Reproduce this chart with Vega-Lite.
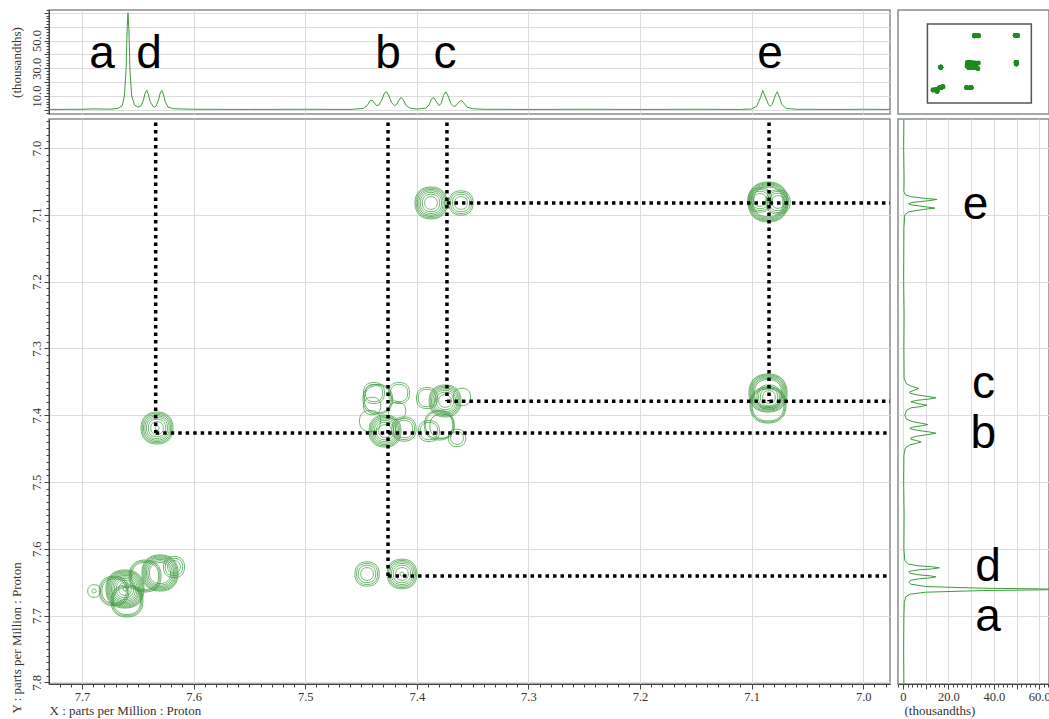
{
"$schema": "https://vega.github.io/schema/vega-lite/v6.json",
"padding": {"left": 9, "top": 8, "right": 0, "bottom": 2},
"background": "white",
"columns": 2,
"spacing": {"row": 3, "column": 3},
"align": "each",
"config": {
  "view": {"stroke": "#8a8a8a", "strokeWidth": 1.5},
  "axis": {"labelFont": "Liberation Serif", "titleFont": "Liberation Serif", "labelFontSize": 12.5, "titleFontSize": 13, "titleFontWeight": "normal", "labelColor": "#333", "titleColor": "#333", "gridColor": "#dcdcdc", "gridWidth": 1, "domainColor": "#444", "tickColor": "#444", "labelOverlap": false, "labelFlush": false}
},
"datasets": {
  "f2": [
    {"ppm":7.7296,"i":0.3},{"ppm":7.70,"i":0.4},{"ppm":7.69,"i":0.7},{"ppm":7.675,"i":0.5},{"ppm":7.668,"i":1.0},{"ppm":7.664,"i":3},{"ppm":7.662,"i":10},{"ppm":7.6605,"i":30},{"ppm":7.6595,"i":60},{"ppm":7.6588,"i":70},{"ppm":7.658,"i":58},{"ppm":7.657,"i":28},{"ppm":7.6555,"i":10},{"ppm":7.653,"i":3.5},{"ppm":7.65,"i":2},{"ppm":7.647,"i":3},{"ppm":7.645,"i":7},{"ppm":7.6435,"i":12},{"ppm":7.642,"i":14},{"ppm":7.6405,"i":11},{"ppm":7.639,"i":6},{"ppm":7.6365,"i":2.5},{"ppm":7.635,"i":2},{"ppm":7.6335,"i":3},{"ppm":7.6315,"i":7},{"ppm":7.63,"i":12},{"ppm":7.6285,"i":14},{"ppm":7.627,"i":11},{"ppm":7.6255,"i":6},{"ppm":7.623,"i":2},{"ppm":7.618,"i":0.8},{"ppm":7.60,"i":0.4},{"ppm":7.55,"i":0.3},{"ppm":7.50,"i":0.4},{"ppm":7.46,"i":0.3},{"ppm":7.448,"i":1},{"ppm":7.4445,"i":3},{"ppm":7.442,"i":6.5},{"ppm":7.44,"i":7},{"ppm":7.438,"i":5},{"ppm":7.436,"i":3},{"ppm":7.434,"i":3.5},{"ppm":7.4315,"i":7},{"ppm":7.429,"i":12},{"ppm":7.427,"i":13},{"ppm":7.425,"i":10},{"ppm":7.4225,"i":5},{"ppm":7.42,"i":3},{"ppm":7.418,"i":4},{"ppm":7.416,"i":7},{"ppm":7.414,"i":9},{"ppm":7.412,"i":7},{"ppm":7.4095,"i":3},{"ppm":7.406,"i":1.2},{"ppm":7.40,"i":0.6},{"ppm":7.392,"i":1.2},{"ppm":7.389,"i":3.5},{"ppm":7.387,"i":7.5},{"ppm":7.385,"i":9},{"ppm":7.383,"i":6.5},{"ppm":7.38,"i":3},{"ppm":7.378,"i":5},{"ppm":7.376,"i":10.5},{"ppm":7.374,"i":13},{"ppm":7.372,"i":10},{"ppm":7.3695,"i":4.5},{"ppm":7.367,"i":2.5},{"ppm":7.365,"i":3},{"ppm":7.3625,"i":5.5},{"ppm":7.36,"i":7},{"ppm":7.358,"i":5},{"ppm":7.355,"i":2},{"ppm":7.35,"i":0.8},{"ppm":7.34,"i":0.4},{"ppm":7.30,"i":0.3},{"ppm":7.25,"i":0.4},{"ppm":7.20,"i":0.3},{"ppm":7.15,"i":0.4},{"ppm":7.11,"i":0.3},{"ppm":7.10,"i":0.6},{"ppm":7.0955,"i":2.5},{"ppm":7.092,"i":9},{"ppm":7.09,"i":14},{"ppm":7.088,"i":10},{"ppm":7.085,"i":4},{"ppm":7.0835,"i":2.5},{"ppm":7.0815,"i":4},{"ppm":7.079,"i":10},{"ppm":7.0772,"i":13},{"ppm":7.0755,"i":10},{"ppm":7.073,"i":4},{"ppm":7.069,"i":1},{"ppm":7.06,"i":0.4},{"ppm":7.02,"i":0.3},{"ppm":7.0,"i":0.4},{"ppm":6.976,"i":0.3}
  ],
  "f1": [
    {"ppm":6.957,"i":0.4},{"ppm":7.0,"i":0.3},{"ppm":7.05,"i":0.5},{"ppm":7.065,"i":0.4},{"ppm":7.07,"i":1},{"ppm":7.073,"i":3.5},{"ppm":7.0755,"i":10},{"ppm":7.077,"i":15},{"ppm":7.079,"i":11},{"ppm":7.0815,"i":4},{"ppm":7.0835,"i":2.5},{"ppm":7.0855,"i":4},{"ppm":7.088,"i":10},{"ppm":7.09,"i":14},{"ppm":7.092,"i":9},{"ppm":7.0955,"i":2.5},{"ppm":7.10,"i":0.8},{"ppm":7.12,"i":0.4},{"ppm":7.2,"i":0.3},{"ppm":7.25,"i":0.5},{"ppm":7.3,"i":0.4},{"ppm":7.345,"i":0.5},{"ppm":7.353,"i":1.5},{"ppm":7.357,"i":4},{"ppm":7.36,"i":7},{"ppm":7.3625,"i":5},{"ppm":7.365,"i":3},{"ppm":7.367,"i":3},{"ppm":7.3695,"i":6},{"ppm":7.372,"i":11},{"ppm":7.374,"i":14.5},{"ppm":7.376,"i":11},{"ppm":7.378,"i":5.5},{"ppm":7.38,"i":3.5},{"ppm":7.383,"i":7},{"ppm":7.385,"i":10.5},{"ppm":7.387,"i":8},{"ppm":7.389,"i":3.5},{"ppm":7.393,"i":1.5},{"ppm":7.40,"i":0.8},{"ppm":7.406,"i":1.5},{"ppm":7.4095,"i":4},{"ppm":7.412,"i":8},{"ppm":7.414,"i":11},{"ppm":7.416,"i":8},{"ppm":7.418,"i":4},{"ppm":7.42,"i":3},{"ppm":7.4225,"i":6},{"ppm":7.425,"i":11.5},{"ppm":7.427,"i":14.5},{"ppm":7.429,"i":11},{"ppm":7.4315,"i":6},{"ppm":7.434,"i":3.5},{"ppm":7.436,"i":3.5},{"ppm":7.438,"i":6},{"ppm":7.44,"i":8},{"ppm":7.442,"i":6},{"ppm":7.4445,"i":3},{"ppm":7.449,"i":1},{"ppm":7.46,"i":0.4},{"ppm":7.5,"i":0.3},{"ppm":7.55,"i":0.5},{"ppm":7.6,"i":0.4},{"ppm":7.618,"i":0.8},{"ppm":7.623,"i":2.5},{"ppm":7.6255,"i":7},{"ppm":7.627,"i":13},{"ppm":7.6285,"i":16},{"ppm":7.63,"i":13},{"ppm":7.6315,"i":7},{"ppm":7.6335,"i":3},{"ppm":7.635,"i":2.5},{"ppm":7.6365,"i":3},{"ppm":7.639,"i":7},{"ppm":7.6405,"i":12},{"ppm":7.642,"i":14.5},{"ppm":7.6435,"i":12},{"ppm":7.645,"i":7},{"ppm":7.647,"i":3.5},{"ppm":7.65,"i":2.5},{"ppm":7.653,"i":3.5},{"ppm":7.6565,"i":10},{"ppm":7.659,"i":35},{"ppm":7.66,"i":60},{"ppm":7.6608,"i":68},{"ppm":7.6615,"i":60},{"ppm":7.6625,"i":35},{"ppm":7.665,"i":10},{"ppm":7.668,"i":3},{"ppm":7.672,"i":1.2},{"ppm":7.68,"i":0.6},{"ppm":7.70,"i":0.4},{"ppm":7.75,"i":0.3},{"ppm":7.8024,"i":0.4}
  ],
  "contours": [
    {"x":7.0853,"y":7.0808,"level":1},{"x":7.0853,"y":7.0808,"level":2},{"x":7.0853,"y":7.0808,"level":3},{"x":7.0853,"y":7.0808,"level":4},{"x":7.0853,"y":7.0808,"level":5},{"x":7.0853,"y":7.0808,"level":6},
    {"x":7.0925,"y":7.0778,"level":8},{"x":7.0925,"y":7.0778,"level":9},{"x":7.0925,"y":7.0778,"level":10},{"x":7.0925,"y":7.0778,"level":11},
    {"x":7.0763,"y":7.0808,"level":8},{"x":7.0763,"y":7.0808,"level":9},{"x":7.0763,"y":7.0808,"level":10},{"x":7.0763,"y":7.0808,"level":11},
    {"x":7.0853,"y":7.3668,"level":2},{"x":7.0853,"y":7.3668,"level":3},{"x":7.0853,"y":7.3668,"level":4},{"x":7.0853,"y":7.3668,"level":5},{"x":7.0853,"y":7.3668,"level":6},{"x":7.0853,"y":7.3668,"level":7},
    {"x":7.0853,"y":7.3847,"level":3},{"x":7.0853,"y":7.3847,"level":4},{"x":7.0853,"y":7.3847,"level":5},
    {"x":7.0844,"y":7.3728,"level":8},{"x":7.0844,"y":7.3728,"level":9},{"x":7.0844,"y":7.3728,"level":10},{"x":7.0844,"y":7.3728,"level":11},
    {"x":7.3873,"y":7.0823,"level":5},{"x":7.3873,"y":7.0823,"level":6},{"x":7.3873,"y":7.0823,"level":7},{"x":7.3873,"y":7.0823,"level":8},{"x":7.3873,"y":7.0823,"level":9},{"x":7.3873,"y":7.0823,"level":10},{"x":7.3873,"y":7.0823,"level":11},
    {"x":7.3604,"y":7.0823,"level":8},{"x":7.3604,"y":7.0823,"level":9},{"x":7.3604,"y":7.0823,"level":10},{"x":7.3604,"y":7.0823,"level":11},
    {"x":7.6328,"y":7.4192,"level":5},{"x":7.6328,"y":7.4192,"level":6},{"x":7.6328,"y":7.4192,"level":7},{"x":7.6328,"y":7.4192,"level":8},{"x":7.6328,"y":7.4192,"level":9},{"x":7.6328,"y":7.4192,"level":10},{"x":7.6328,"y":7.4192,"level":11},{"x":7.6328,"y":7.4192,"level":12},
    {"x":7.4446,"y":7.6377,"level":8},{"x":7.4446,"y":7.6377,"level":9},{"x":7.4446,"y":7.6377,"level":10},{"x":7.4446,"y":7.6377,"level":11},
    {"x":7.4133,"y":7.6377,"level":6},{"x":7.4133,"y":7.6377,"level":7},{"x":7.4133,"y":7.6377,"level":8},{"x":7.4133,"y":7.6377,"level":9},{"x":7.4133,"y":7.6377,"level":10},{"x":7.4133,"y":7.6377,"level":11},{"x":7.4133,"y":7.6377,"level":12},
    {"x":7.4285,"y":7.4237,"level":5},{"x":7.4285,"y":7.4237,"level":6},{"x":7.4285,"y":7.4237,"level":7},{"x":7.4285,"y":7.4237,"level":8},{"x":7.4285,"y":7.4237,"level":9},{"x":7.4285,"y":7.4237,"level":10},{"x":7.4285,"y":7.4237,"level":11},
    {"x":7.4350,"y":7.3760,"level":6},{"x":7.4350,"y":7.3760,"level":7},
    {"x":7.4384,"y":7.3668,"level":9},{"x":7.4384,"y":7.3668,"level":10},
    {"x":7.4159,"y":7.3668,"level":9},{"x":7.4159,"y":7.3668,"level":10},
    {"x":7.4115,"y":7.4207,"level":8},{"x":7.4115,"y":7.4207,"level":9},{"x":7.4115,"y":7.4207,"level":10},
    {"x":7.4401,"y":7.3862,"level":10},{"x":7.4177,"y":7.3937,"level":10},{"x":7.4419,"y":7.4087,"level":9},
    {"x":7.3747,"y":7.3787,"level":5},{"x":7.3747,"y":7.3787,"level":6},{"x":7.3747,"y":7.3787,"level":7},{"x":7.3747,"y":7.3787,"level":8},{"x":7.3747,"y":7.3787,"level":9},{"x":7.3747,"y":7.3787,"level":10},{"x":7.3747,"y":7.3787,"level":11},
    {"x":7.3800,"y":7.4150,"level":6},{"x":7.3800,"y":7.4150,"level":7},
    {"x":7.3909,"y":7.3743,"level":9},{"x":7.3909,"y":7.3743,"level":10},
    {"x":7.3891,"y":7.4237,"level":9},{"x":7.3891,"y":7.4237,"level":10},
    {"x":7.364,"y":7.4341,"level":10},{"x":7.364,"y":7.4341,"level":11},
    {"x":7.3774,"y":7.4162,"level":8},{"x":7.3596,"y":7.3728,"level":10},
    {"x":7.6615,"y":7.6602,"level":2},{"x":7.6615,"y":7.6602,"level":3},{"x":7.6615,"y":7.6602,"level":4},{"x":7.6615,"y":7.6602,"level":5},{"x":7.6615,"y":7.6602,"level":6},{"x":7.6615,"y":7.6602,"level":7},{"x":7.6615,"y":7.6602,"level":8},{"x":7.6615,"y":7.6602,"level":9},{"x":7.6615,"y":7.6602,"level":10},{"x":7.6615,"y":7.6602,"level":11},{"x":7.6615,"y":7.6602,"level":12},
    {"x":7.6713,"y":7.6632,"level":6},{"x":7.6713,"y":7.6632,"level":7},{"x":7.6713,"y":7.6632,"level":8},
    {"x":7.6597,"y":7.6781,"level":5},{"x":7.6597,"y":7.6781,"level":6},{"x":7.6597,"y":7.6781,"level":7},
    {"x":7.6892,"y":7.6632,"level":11},{"x":7.6892,"y":7.6632,"level":12},
    {"x":7.6301,"y":7.6362,"level":3},{"x":7.6301,"y":7.6362,"level":4},{"x":7.6301,"y":7.6362,"level":5},{"x":7.6301,"y":7.6362,"level":6},{"x":7.6301,"y":7.6362,"level":7},{"x":7.6301,"y":7.6362,"level":8},{"x":7.6301,"y":7.6362,"level":9},
    {"x":7.6176,"y":7.6272,"level":9},{"x":7.6176,"y":7.6272,"level":10},{"x":7.6176,"y":7.6272,"level":11},
    {"x":7.6435,"y":7.6407,"level":5},{"x":7.6435,"y":7.6407,"level":6},{"x":7.6435,"y":7.6407,"level":7}
  ],
  "guides": [
    {"x":7.634,"x2":7.634,"y":6.962,"y2":7.4266},
    {"x":7.634,"x2":6.976,"y":7.4266,"y2":7.4266},
    {"x":7.4258,"x2":7.4258,"y":6.962,"y2":7.6407},
    {"x":7.4258,"x2":6.976,"y":7.6407,"y2":7.6407},
    {"x":7.373,"x2":7.373,"y":6.962,"y2":7.379},
    {"x":7.373,"x2":6.976,"y":7.0823,"y2":7.0823},
    {"x":7.373,"x2":6.976,"y":7.379,"y2":7.379},
    {"x":7.0844,"x2":7.0844,"y":6.962,"y2":7.379}
  ],
  "topLabels": [
    {"t":"a","ppm":7.682,"i":30},{"t":"d","ppm":7.64,"i":30},{"t":"b","ppm":7.4258,"i":30},{"t":"c","ppm":7.3747,"i":30},{"t":"e","ppm":7.0835,"i":30}
  ],
  "sideLabels": [
    {"t":"e","ppm":7.1063,"i":32},{"t":"c","ppm":7.3743,"i":35.4},{"t":"b","ppm":7.4491,"i":35.4},{"t":"d","ppm":7.6482,"i":37.5},{"t":"a","ppm":7.7231,"i":37.5}
  ],
  "viewport": [
    {"x":7.7296,"x2":6.976,"y":6.9566,"y2":7.8024}
  ]
},
"concat": [
  {
    "width": 841, "height": 104,
    "layer": [
      {
        "data": {"name": "f2"},
        "mark": {"type": "line", "color": "#3c9c3c", "strokeWidth": 1, "clip": true},
        "encoding": {
          "x": {"field": "ppm", "type": "quantitative", "scale": {"domain": [6.976, 7.7296], "reverse": true, "nice": false, "zero": false},
                "axis": {"values": [7.0, 7.1, 7.2, 7.3, 7.4, 7.5, 7.6, 7.7], "labels": false, "ticks": false, "domain": false, "title": null, "grid": true, "minExtent": 0, "maxExtent": 0}},
          "y": {"field": "i", "type": "quantitative", "scale": {"domain": [-3, 72], "nice": false, "zero": false},
                "axis": {"title": "(thousandths)", "tickCount": 38, "labelAngle": -90, "labelAlign": "center", "labelBaseline": "bottom", "labelPadding": 1, "titlePadding": 7, "minExtent": 19, "maxExtent": 19,
                         "labelExpr": "(datum.value == 10 || datum.value == 30 || datum.value == 50) ? format(datum.value, '.1f') : ''",
                         "tickSize": {"condition": {"test": "datum.value % 10 == 0", "value": 5}, "value": 3},
                         "gridOpacity": {"condition": {"test": "datum.value % 10 == 0", "value": 1}, "value": 0}}}
        }
      },
      {
        "data": {"name": "topLabels"},
        "mark": {"type": "text", "font": "Liberation Sans", "fontSize": 46, "baseline": "alphabetic", "align": "center", "color": "black"},
        "encoding": {
          "x": {"field": "ppm", "type": "quantitative"},
          "y": {"field": "i", "type": "quantitative"},
          "text": {"field": "t"}
        }
      }
    ]
  },
  {
    "width": 151, "height": 104,
    "layer": [
      {
        "data": {"name": "viewport"},
        "mark": {"type": "rect", "filled": false, "stroke": "#555", "strokeWidth": 1.5},
        "encoding": {
          "x": {"field": "x", "type": "quantitative", "scale": {"domain": [6.848, 7.943], "reverse": true, "nice": false, "zero": false}, "axis": null},
          "x2": {"field": "x2"},
          "y": {"field": "y", "type": "quantitative", "scale": {"domain": [6.806, 7.92], "reverse": true, "nice": false, "zero": false}, "axis": null},
          "y2": {"field": "y2"}
        }
      },
      {
        "data": {"name": "contours"},
        "mark": {"type": "point", "shape": "circle", "filled": true, "size": 24, "color": "#1f8a1f", "opacity": 1},
        "encoding": {
          "x": {"field": "x", "type": "quantitative"},
          "y": {"field": "y", "type": "quantitative"}
        }
      }
    ]
  },
  {
    "width": 841, "height": 565,
    "layer": [
      {
        "data": {"name": "contours"},
        "mark": {"type": "point", "filled": false, "stroke": "#3a9a3a", "strokeWidth": 0.9, "opacity": 0.8,
                 "shape": "M 0 -1 C 0.64 -1 1 -0.64 1 0 C 1 0.64 0.64 1 0 1 C -0.64 1 -1 0.64 -1 0 C -1 -0.64 -0.64 -1 0 -1 Z"},
        "encoding": {
          "x": {"field": "x", "type": "quantitative", "scale": {"domain": [6.976, 7.7296], "reverse": true, "nice": false, "zero": false},
                "axis": {"title": "X : parts per Million : Proton", "titleAlign": "left", "titleX": 0, "tickCount": 76, "labelPadding": 1, "titlePadding": 2,
                         "labelExpr": "abs(datum.value*10 - round(datum.value*10)) < 0.01 ? format(datum.value, '.1f') : ''",
                         "tickSize": {"condition": {"test": "abs(datum.value*10 - round(datum.value*10)) < 0.01", "value": 5}, "value": 3},
                         "gridOpacity": {"condition": {"test": "abs(datum.value*10 - round(datum.value*10)) < 0.01", "value": 1}, "value": 0}}},
          "y": {"field": "y", "type": "quantitative", "scale": {"domain": [6.9566, 7.8024], "reverse": true, "nice": false, "zero": false},
                "axis": {"title": "Y : parts per Million : Proton", "titleAlign": "left", "titleY": 594, "tickCount": 85, "labelAngle": -90, "labelAlign": "center", "labelBaseline": "bottom", "labelPadding": 1, "titlePadding": 7, "minExtent": 19, "maxExtent": 19,
                         "labelExpr": "abs(datum.value*10 - round(datum.value*10)) < 0.01 ? format(datum.value, '.1f') : ''",
                         "tickSize": {"condition": {"test": "abs(datum.value*10 - round(datum.value*10)) < 0.01", "value": 5}, "value": 3},
                         "gridOpacity": {"condition": {"test": "abs(datum.value*10 - round(datum.value*10)) < 0.01", "value": 1}, "value": 0}}},
          "size": {"field": "level", "type": "quantitative", "scale": {"domain": [1, 12], "range": [1600, 16], "zero": false}, "legend": null}
        }
      },
      {
        "data": {"name": "guides"},
        "mark": {"type": "rule", "color": "black", "strokeWidth": 3.5, "strokeDash": [3.5, 4]},
        "encoding": {
          "x": {"field": "x", "type": "quantitative"},
          "x2": {"field": "x2"},
          "y": {"field": "y", "type": "quantitative"},
          "y2": {"field": "y2"}
        }
      }
    ]
  },
  {
    "width": 151, "height": 565,
    "layer": [
      {
        "data": {"name": "f1"},
        "mark": {"type": "line", "color": "#3c9c3c", "strokeWidth": 1, "clip": true},
        "encoding": {
          "x": {"field": "i", "type": "quantitative", "scale": {"domain": [-2.2, 64.3], "nice": false, "zero": false},
                "axis": {"title": "(thousandths)", "titleAlign": "left", "titleX": 6, "tickCount": 33, "labelPadding": 1, "titlePadding": 2,
                         "labelExpr": "datum.value % 20 == 0 ? (datum.value == 0 ? '0' : format(datum.value, '.1f')) : ''",
                         "tickSize": {"condition": {"test": "datum.value % 10 == 0", "value": 5}, "value": 3},
                         "gridOpacity": {"condition": {"test": "datum.value % 10 == 0", "value": 1}, "value": 0}}},
          "y": {"field": "ppm", "type": "quantitative", "scale": {"domain": [6.9566, 7.8024], "reverse": true, "nice": false, "zero": false},
                "axis": {"values": [7.0, 7.1, 7.2, 7.3, 7.4, 7.5, 7.6, 7.7], "labels": false, "ticks": false, "domain": false, "title": null, "grid": true, "minExtent": 0, "maxExtent": 0}},
          "order": {"field": "ppm", "type": "quantitative"}
        }
      },
      {
        "data": {"name": "sideLabels"},
        "mark": {"type": "text", "font": "Liberation Sans", "fontSize": 46, "baseline": "alphabetic", "align": "center", "color": "black"},
        "encoding": {
          "x": {"field": "i", "type": "quantitative"},
          "y": {"field": "ppm", "type": "quantitative"},
          "text": {"field": "t"}
        }
      }
    ]
  }
]
}
